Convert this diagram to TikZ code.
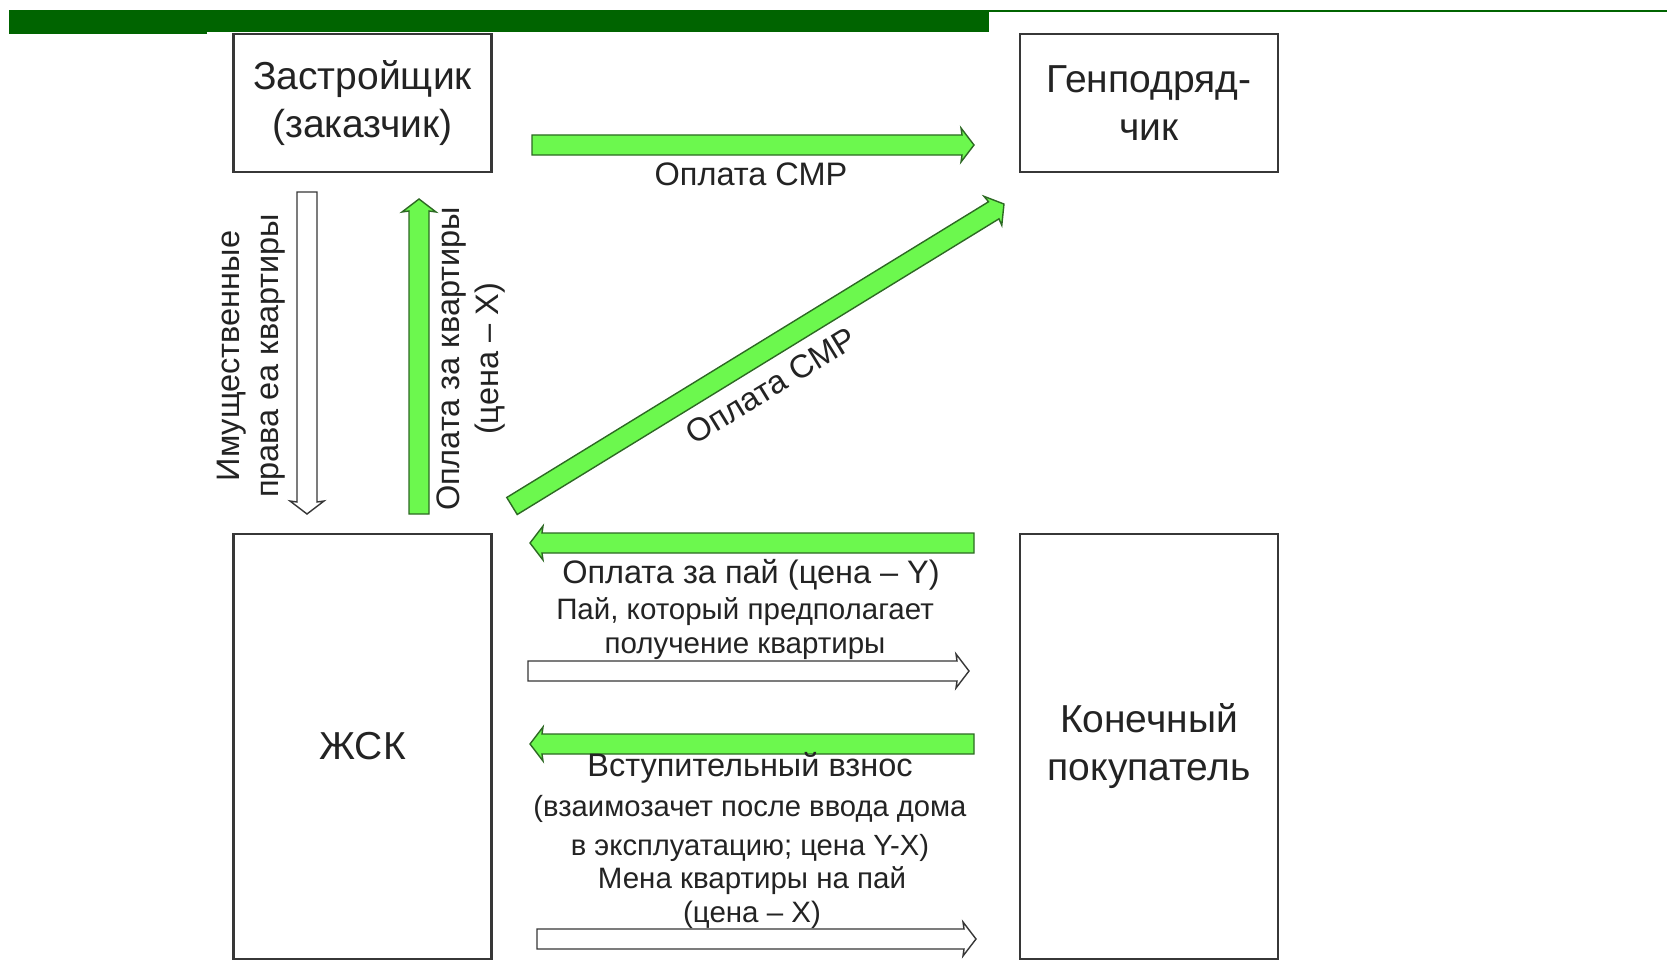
\documentclass[tikz,border=0pt]{standalone}
\usepackage{fontspec}
\setmainfont{Liberation Sans}
\usetikzlibrary{calc}
\definecolor{bargreen}{RGB}{0,100,0}
\definecolor{paygreen}{RGB}{108,248,78}
\definecolor{payedge}{RGB}{45,105,35}
\definecolor{boxedge}{RGB}{55,55,55}
\definecolor{inkgray}{RGB}{35,35,35}

\tikzset{
  party/.style={draw=boxedge,line width=2.6pt,minimum width=258pt,inner sep=0pt,
    align=center,text=inkgray,font=\fontsize{39}{48}\selectfont},
  lbl/.style={align=center,text=inkgray,inner sep=0pt,font=\fontsize{32.5}{39}\selectfont},
  note/.style={align=center,text=inkgray,inner sep=0pt,font=\fontsize{29.5}{34}\selectfont},
  blockarrow/.style={line width=1.4pt,line join=miter,
    to path={let \p1=($(\tikztotarget)-(\tikztostart)$),
      \n1={atan2(\y1,\x1)}, \n2={veclen(\x1,\y1)} in
      ([shift={(\tikztostart)},rotate=\n1]0pt,-10pt)
      -- ([shift={(\tikztostart)},rotate=\n1]\n2*1pt-12pt,-10pt)
      -- ([shift={(\tikztostart)},rotate=\n1]\n2*1pt-13pt,-17pt)
      -- ([shift={(\tikztostart)},rotate=\n1]\n2*1pt,0pt)
      -- ([shift={(\tikztostart)},rotate=\n1]\n2*1pt-13pt,17pt)
      -- ([shift={(\tikztostart)},rotate=\n1]\n2*1pt-12pt,10pt)
      -- ([shift={(\tikztostart)},rotate=\n1]0pt,10pt) -- cycle}},
  paid/.style={blockarrow,fill=paygreen,draw=payedge},
  goods/.style={blockarrow,fill=white,draw=boxedge}
}

\begin{document}
\begin{tikzpicture}[x=1pt,y=-1pt]
  \useasboundingbox[fill=white] (0,0) rectangle (1667,971);
  % Header bar
  \fill[bargreen] (9,10) rectangle (989,32);
  \fill[bargreen] (9,32) rectangle (207,34);
  \draw[bargreen,line width=2.5pt] (989,11) -- (1667,11);
  % Parties
  \foreach \nm/\cx/\cy/\bh/\txt in {zs/362.5/103/138/{Застройщик\\(заказчик)},
      gp/1149/103/138/{Генподряд-\\чик}, jsk/362.5/746.5/425/{ЖСК},
      kp/1149/746.5/425/{Конечный\\покупатель}}
    \node[party,minimum height=\bh] (\nm) at (\cx,\cy) {\txt};
  % Flow end points
  \coordinate (smr-s) at (532,145);  \coordinate (smr-e) at (974,145);
  \coordinate (diag-s) at (512,506); \coordinate (diag-e) at (1004,204);
  \coordinate (rights-s) at (307,192); \coordinate (rights-e) at (307,514);
  \coordinate (flat-s) at (419,514); \coordinate (flat-e) at (419,199);
  \coordinate (share-s) at (974,543); \coordinate (share-e) at (530,543);
  \coordinate (unit-s) at (528,671); \coordinate (unit-e) at (969,671);
  \coordinate (fee-s) at (974,744); \coordinate (fee-e) at (530,744);
  \coordinate (swap-s) at (537,939); \coordinate (swap-e) at (976,939);
  % Flows
  \foreach \a/\sty in {smr/paid, diag/paid, rights/goods, flat/paid,
      share/paid, unit/goods, fee/paid, swap/goods}
    \draw[\sty] (\a-s) to (\a-e);
  % Labels
  \node[lbl] (smr-l) at (751,174) {Оплата СМР};
  \node[lbl,rotate=31.5] (diag-l) at (771,386) {Оплата СМР};
  \node[lbl,rotate=90] (rights-l) at (251,356) {Имущественные\\права еа квартиры};
  \node[lbl,rotate=90] (flat-l) at (471,359) {Оплата за квартиры\\(цена – X)};
  \node[lbl] (share-l) at (751,575) {Оплата за пай (цена – Y)};
  \node[note] (unit-l) at (745,629) {Пай, который предполагает\\получение квартиры};
  \node[note,font=\fontsize{29.2}{39.5}\selectfont] (fee-l) at (750,807)
    {{\fontsize{32.5}{39.5}\selectfont Вступительный взнос}\\(взаимозачет после ввода дома\\в эксплуатацию; цена Y-X)};
  \node[note] (swap-l) at (752,898) {Мена квартиры на пай\\(цена – X)};
\end{tikzpicture}
\end{document}
